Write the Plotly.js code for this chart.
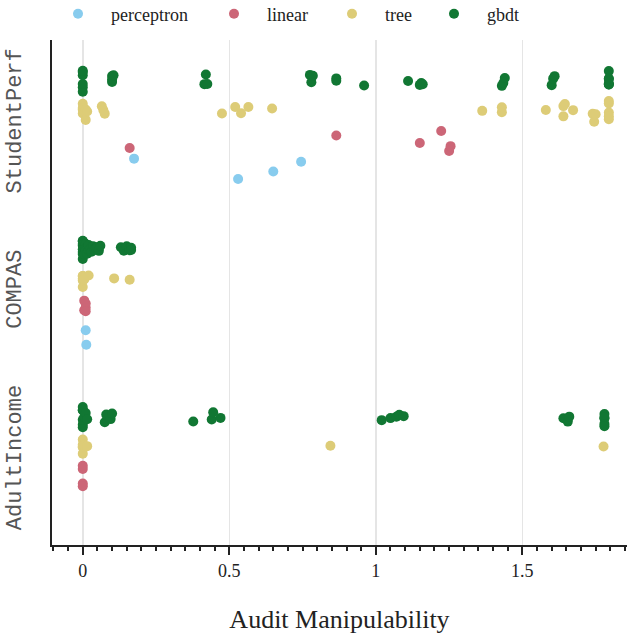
<!DOCTYPE html>
<html>
<head>
<meta charset="utf-8">
<script src="https://cdn.plot.ly/plotly-3.0.1.min.js"></script>
<style>html,body{margin:0;padding:0;background:#fff;} #chart{width:628px;height:635px;}</style>
</head>
<body>
<div id="chart"></div>
<script>
// Categories (bottom to top) and models (legend order)
const datasets = ["AdultIncome", "COMPAS", "StudentPerf"];
const models = ["perceptron", "linear", "tree", "gbdt"];
const modelColors = ["#88CCEE", "#CC6677", "#DDCC77", "#117733"];

// Audit manipulability values, per model and dataset
const perceptron_StudentPerf = [0.175, 0.53, 0.65, 0.745];
const perceptron_COMPAS = [0.01, 0.012];
const perceptron_AdultIncome = [];

const linear_StudentPerf = [0.16, 0.865, 1.15, 1.223, 1.25, 1.255];
const linear_COMPAS = [0.005, 0.01, 0.01, 0.01, 0.005];
const linear_AdultIncome = [0, 0, 0, 0];

const tree_StudentPerf = [0, 0, 0, 0, 0.005, 0.01, 0.01, 0.015, 0.065, 0.07, 0.075, 0.475, 0.52, 0.54, 0.565, 0.646,
  1.363, 1.43, 1.43, 1.58, 1.64, 1.64, 1.645, 1.673, 1.74, 1.745, 1.75, 1.795, 1.795, 1.795, 1.795, 1.795];
const tree_COMPAS = [0, 0, 0, 0, 0, 0.005, 0.02, 0.107, 0.16];
const tree_AdultIncome = [0, 0, 0, 0, 0, 0.005, 0.015, 0.845, 1.777];

const gbdt_StudentPerf = [0, 0, 0, 0, 0, 0, 0.10, 0.10, 0.105, 0.10, 0.415, 0.42, 0.425, 0.775, 0.78, 0.785,
  0.865, 0.865, 0.96, 1.11, 1.15, 1.16, 1.155, 1.43, 1.435, 1.44, 1.60, 1.605, 1.61,
  1.795, 1.795, 1.795, 1.795, 1.795, 1.795];
const gbdt_COMPAS = [0, 0, 0, 0, 0, 0, 0, 0, 0.005, 0.005, 0.01, 0.01, 0.01, 0.015, 0.02, 0.02, 0.025, 0.03, 0.035,
  0.04, 0.045, 0.05, 0.055, 0.06, 0.13, 0.14, 0.15, 0.16, 0.16, 0.165, 0.165];
const gbdt_AdultIncome = [0, 0, 0, 0, 0, 0, 0.005, 0.01, 0.015, 0.075, 0.08, 0.095, 0.10, 0.377, 0.44, 0.445, 0.47,
  1.02, 1.05, 1.07, 1.08, 1.095, 1.64, 1.655, 1.66, 1.78, 1.78, 1.78, 1.78, 1.78];

const values = {
  perceptron: {StudentPerf: perceptron_StudentPerf, COMPAS: perceptron_COMPAS, AdultIncome: perceptron_AdultIncome},
  linear: {StudentPerf: linear_StudentPerf, COMPAS: linear_COMPAS, AdultIncome: linear_AdultIncome},
  tree: {StudentPerf: tree_StudentPerf, COMPAS: tree_COMPAS, AdultIncome: tree_AdultIncome},
  gbdt: {StudentPerf: gbdt_StudentPerf, COMPAS: gbdt_COMPAS, AdultIncome: gbdt_AdultIncome}
};

const xTickVals = [0, 0.5, 1, 1.5];
const xTickText = ["0", "0.5", "1", "1.5"];

// legend entry positions (container fraction, left edge of each entry)
const legendX = [45 / 628, 201 / 628, 319 / 628, 421 / 628];
const legendIds = ["legend", "legend2", "legend3", "legend4"];

const traces = [];
models.forEach((m, i) => {
  const xs = [], ys = [];
  datasets.forEach(d => {
    values[m][d].forEach(v => { xs.push(v); ys.push(d); });
  });
  traces.push({
    type: "box", orientation: "h", name: m, x: xs, y: ys,
    boxpoints: "all", jitter: 0.85, pointpos: 0,
    fillcolor: "rgba(0,0,0,0)", line: {color: "rgba(0,0,0,0)", width: 0}, whiskerwidth: 0,
    marker: {color: modelColors[i], size: 10, opacity: 1},
    showlegend: false, legendgroup: m, hoveron: "points"
  });
});
// legend entries (circle markers)
models.forEach((m, i) => {
  traces.push({
    type: "scatter", mode: "markers", name: m, x: [null], y: [null],
    marker: {color: modelColors[i], size: 10}, legendgroup: m, showlegend: true,
    legend: legendIds[i]
  });
});

const layout = {
  width: 628, height: 635,
  margin: {l: 52, r: 1, t: 40, b: 90},
  paper_bgcolor: "#fff", plot_bgcolor: "#fff",
  boxmode: "group", boxgap: 0.3, boxgroupgap: 0,
  showlegend: true,
  xaxis: {
    range: [-0.105, 1.857], zeroline: false,
    showgrid: true, gridcolor: "#e5e5e5", gridwidth: 1.5,
    tickmode: "array", tickvals: xTickVals, ticktext: xTickText,
    ticks: "outside", ticklen: 8, tickwidth: 2, tickcolor: "#222",
    minor: {dtick: 0.05, tick0: 0, ticks: "outside", ticklen: 4, tickwidth: 2, tickcolor: "#222", showgrid: false},
    showline: true, linecolor: "#222", linewidth: 2,
    tickfont: {family: "Liberation Serif", size: 18, color: "#222"},
    title: {text: "Audit Manipulability", font: {family: "Liberation Serif", size: 26, color: "#222"}, standoff: 30}
  },
  yaxis: {
    type: "category", categoryorder: "array", categoryarray: datasets,
    range: [-0.5, 2.5], showgrid: false, zeroline: false,
    showline: true, linecolor: "#222", linewidth: 2, ticks: "",
    tickangle: -90, ticklabelstandoff: 20,
    tickfont: {family: "Liberation Mono", size: 22, color: "#555"}
  }
};
legendIds.forEach((id, i) => {
  layout[id] = {
    xref: "container", yref: "container", x: legendX[i], xanchor: "left",
    y: 1 - 14 / 635, yanchor: "middle", orientation: "h",
    bgcolor: "rgba(0,0,0,0)", borderwidth: 0, itemwidth: 56,
    font: {family: "Liberation Serif", size: 18, color: "#222"}
  };
});

Plotly.newPlot("chart", traces, layout, {displayModeBar: false, staticPlot: true});
</script>
</body>
</html>
